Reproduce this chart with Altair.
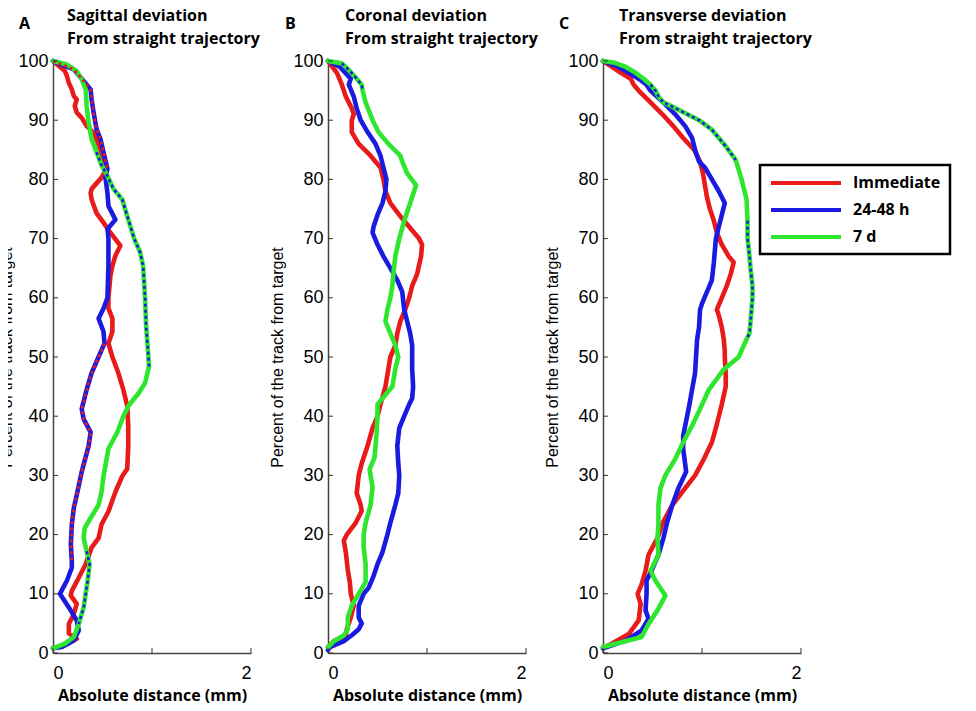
import altair as alt
import pandas as pd

SERIES = ["Immediate", "24-48 h", "7 d"]
COLORS = ["#e81a1a", "#1a1ae0", "#2ee62e"]
X_TICKS = [0, 1, 2]
Y_TICKS = [0, 10, 20, 30, 40, 50, 60, 70, 80, 90, 100]

# ---------------- Panel A (Sagittal) ----------------
A_RED_Y = [100, 98.3, 97.5, 96.3, 95.2, 94.1, 93.5, 92.4, 91.3, 90.4, 89, 87.9, 86.7, 85, 82.9, 81.5, 80.3, 78.4, 77.7, 76.6, 74.3, 72.7, 71, 68.8, 67.1, 65.4, 63.7, 60, 58.2, 56.5, 54.3, 52.3, 50, 47.3, 44.5, 41.7, 38.4, 35, 31.1, 29.9, 27.2, 23.9, 21.7, 19.4, 17.8, 15, 12.7, 10.5, 9.7, 8.3, 6.6, 4.9, 3.3, 2.4, 1.3, 0.8]
A_RED_X = [0, 0.12, 0.14, 0.16, 0.19, 0.21, 0.24, 0.22, 0.24, 0.29, 0.34, 0.41, 0.44, 0.48, 0.51, 0.53, 0.49, 0.39, 0.38, 0.39, 0.44, 0.51, 0.58, 0.68, 0.63, 0.60, 0.58, 0.56, 0.56, 0.60, 0.60, 0.56, 0.60, 0.66, 0.71, 0.75, 0.76, 0.76, 0.75, 0.70, 0.63, 0.56, 0.49, 0.46, 0.39, 0.33, 0.26, 0.19, 0.18, 0.24, 0.21, 0.16, 0.16, 0.24, 0.12, 0]
A_BLUE_Y = [100, 98.6, 97.2, 95.2, 93.5, 91.3, 88.5, 86.8, 84.6, 81.8, 80.3, 77.7, 75.5, 73.2, 71.6, 70, 65.4, 60, 58.2, 56.5, 54.3, 52.3, 50, 47.3, 44.5, 41.2, 39.5, 37.3, 35, 30.6, 26.7, 24.5, 21.7, 18.3, 15.5, 14.4, 12.2, 10, 7.7, 5.5, 3.8, 2.1, 1, 0.8]
A_BLUE_X = [0, 0.21, 0.28, 0.38, 0.39, 0.41, 0.44, 0.48, 0.51, 0.55, 0.53, 0.55, 0.56, 0.63, 0.55, 0.56, 0.56, 0.55, 0.51, 0.46, 0.51, 0.52, 0.46, 0.39, 0.34, 0.29, 0.31, 0.38, 0.36, 0.29, 0.24, 0.21, 0.19, 0.18, 0.19, 0.19, 0.14, 0.07, 0.16, 0.24, 0.26, 0.21, 0.09, 0]
A_GREEN_Y = [100, 99.4, 98.3, 96.9, 95.2, 92.4, 89.6, 86.8, 84.6, 82.4, 80.6, 78.4, 76.6, 73.8, 70, 67.7, 65.4, 60, 55.4, 50.9, 48.4, 45.6, 44, 41.7, 40, 37.3, 34.5, 31.7, 29.9, 27.2, 25, 22.8, 21.1, 19.4, 17.2, 15, 12.2, 10, 7.7, 4.9, 2.7, 1.6, 0.8]
A_GREEN_X = [0, 0.14, 0.24, 0.29, 0.33, 0.34, 0.36, 0.39, 0.44, 0.49, 0.55, 0.61, 0.70, 0.75, 0.82, 0.88, 0.91, 0.93, 0.94, 0.96, 0.97, 0.93, 0.87, 0.76, 0.71, 0.65, 0.56, 0.53, 0.51, 0.49, 0.46, 0.38, 0.32, 0.31, 0.34, 0.37, 0.35, 0.33, 0.31, 0.26, 0.21, 0.12, 0]

# ---------------- Panel B (Coronal) ----------------
B_RED_Y = [100, 98, 96, 94, 92, 91, 90, 88, 86, 84, 82, 80, 78, 76, 74, 72, 70, 69, 67, 64, 62, 60, 58, 56, 54, 52, 50, 48, 45, 42, 40, 38, 35, 32, 30, 27, 25, 24, 22, 20, 19, 17, 14, 12, 10, 8, 6, 4, 3, 2, 1]
B_RED_X = [0, 0.09, 0.14, 0.18, 0.24, 0.26, 0.24, 0.24, 0.31, 0.43, 0.53, 0.56, 0.58, 0.63, 0.72, 0.82, 0.92, 0.95, 0.94, 0.90, 0.85, 0.82, 0.78, 0.73, 0.70, 0.68, 0.63, 0.61, 0.58, 0.53, 0.50, 0.45, 0.40, 0.34, 0.31, 0.29, 0.33, 0.34, 0.28, 0.19, 0.16, 0.18, 0.20, 0.22, 0.23, 0.26, 0.23, 0.19, 0.18, 0.06, 0]
B_BLUE_Y = [100, 99, 97, 96, 94, 92, 90, 88, 86, 84, 82, 80, 78, 76, 74, 72, 71, 69, 67, 65, 63, 61, 58, 56, 54, 52, 50, 48, 45, 43, 42, 40, 38, 35, 32, 30, 27, 25, 22, 20, 17, 15, 13, 11, 10, 8, 6, 5, 4, 3, 2, 1, 0.5]
B_BLUE_X = [0, 0.12, 0.23, 0.21, 0.26, 0.29, 0.33, 0.40, 0.48, 0.53, 0.56, 0.59, 0.58, 0.55, 0.50, 0.46, 0.45, 0.50, 0.56, 0.63, 0.70, 0.75, 0.77, 0.80, 0.83, 0.85, 0.85, 0.85, 0.86, 0.85, 0.82, 0.77, 0.72, 0.70, 0.71, 0.72, 0.71, 0.68, 0.63, 0.60, 0.55, 0.50, 0.46, 0.41, 0.36, 0.31, 0.31, 0.34, 0.31, 0.24, 0.16, 0.02, 0]
B_GREEN_Y = [100, 99.6, 98.5, 97, 96, 95, 93, 90, 88, 86, 84, 83, 81, 79, 77, 75, 73, 70, 67, 64, 62, 60, 58, 56, 54, 52, 50, 48, 45, 43, 42, 40, 37, 35, 33, 31, 28, 25, 22, 20, 18, 15, 12, 10, 8, 6, 4, 3, 2, 1]
B_GREEN_X = [0, 0.14, 0.21, 0.29, 0.34, 0.35, 0.38, 0.45, 0.51, 0.61, 0.73, 0.75, 0.80, 0.89, 0.85, 0.81, 0.77, 0.72, 0.68, 0.66, 0.65, 0.63, 0.60, 0.58, 0.63, 0.68, 0.71, 0.68, 0.65, 0.55, 0.50, 0.50, 0.49, 0.48, 0.47, 0.42, 0.45, 0.43, 0.38, 0.36, 0.36, 0.38, 0.38, 0.31, 0.24, 0.20, 0.20, 0.16, 0.06, 0]

# ---------------- Panel C (Transverse) ----------------
C_RED_Y = [100, 99, 98, 97, 96, 95, 93, 91, 89, 87, 85, 83, 81, 79, 77, 75, 73, 71, 69, 67, 66, 64, 62, 60, 58, 57, 55, 53, 51, 50, 47, 45, 42, 40, 38, 35.6, 32.8, 30, 27.2, 25, 22.2, 19.4, 16.6, 13.9, 11.6, 10, 8.3, 5.5, 3.2, 1.6, 0.8]
C_RED_X = [0, 0.09, 0.18, 0.28, 0.31, 0.36, 0.48, 0.60, 0.71, 0.81, 0.92, 0.98, 1.01, 1.03, 1.05, 1.08, 1.12, 1.15, 1.20, 1.27, 1.32, 1.29, 1.25, 1.20, 1.15, 1.17, 1.20, 1.22, 1.23, 1.23, 1.24, 1.24, 1.20, 1.17, 1.14, 1.10, 1.02, 0.93, 0.80, 0.70, 0.61, 0.55, 0.46, 0.43, 0.39, 0.35, 0.38, 0.36, 0.26, 0.09, 0]
C_BLUE_Y = [100, 99, 98, 97, 96, 95, 93, 91, 89, 87, 85, 83, 82, 80, 78, 76, 74, 72, 70, 68, 66, 63, 61, 59, 58, 55, 52.9, 47.3, 41.7, 36.7, 34.5, 30.6, 27.8, 25, 22.2, 19.4, 16.6, 13.9, 12.2, 10, 7.2, 5.8, 3.8, 2.1, 0.8]
C_BLUE_X = [0, 0.16, 0.26, 0.36, 0.44, 0.48, 0.61, 0.73, 0.83, 0.90, 0.93, 0.97, 1.03, 1.10, 1.17, 1.23, 1.20, 1.17, 1.14, 1.13, 1.12, 1.10, 1.05, 1.00, 0.98, 0.97, 0.95, 0.93, 0.87, 0.81, 0.81, 0.84, 0.76, 0.70, 0.65, 0.61, 0.56, 0.49, 0.44, 0.44, 0.43, 0.46, 0.39, 0.23, 0]
C_GREEN_Y = [100, 99.7, 99, 98, 97, 96, 95, 94, 93, 92.3, 90, 88.4, 85.6, 83.3, 80, 76.6, 73, 70, 67, 65, 62, 60, 58, 56, 54, 53, 50, 47.9, 44.5, 41.2, 38.4, 35.6, 32.8, 30, 27.8, 25, 21.7, 19.4, 16.6, 13.9, 12.2, 9.7, 7.2, 4.9, 2.7, 1]
C_GREEN_X = [0, 0.12, 0.23, 0.33, 0.41, 0.48, 0.53, 0.56, 0.61, 0.70, 0.97, 1.10, 1.24, 1.34, 1.40, 1.45, 1.46, 1.46, 1.48, 1.49, 1.51, 1.51, 1.50, 1.49, 1.48, 1.45, 1.37, 1.22, 1.07, 0.98, 0.90, 0.81, 0.73, 0.63, 0.58, 0.56, 0.56, 0.55, 0.56, 0.48, 0.53, 0.63, 0.55, 0.46, 0.39, 0]

# Stretches where two traces run together and look dotted in the original
# (panel, trace underneath, dotted colour index, upper y, lower y)
DOTTED = [
    ("A", "24-48 h", 0, 100, 81.8),
    ("A", "24-48 h", 0, 52.3, 15.5),
    ("A", "7 d", 1, 84.6, 48.4),
    ("A", "7 d", 1, 17.2, 4.9),
    ("B", "7 d", 1, 99.6, 95),
    ("C", "7 d", 1, 96, 83.3),
    ("C", "7 d", 1, 73, 53),
]

DATA = {
    "A": [(A_RED_X, A_RED_Y), (A_BLUE_X, A_BLUE_Y), (A_GREEN_X, A_GREEN_Y)],
    "B": [(B_RED_X, B_RED_Y), (B_BLUE_X, B_BLUE_Y), (B_GREEN_X, B_GREEN_Y)],
    "C": [(C_RED_X, C_RED_Y), (C_BLUE_X, C_BLUE_Y), (C_GREEN_X, C_GREEN_Y)],
}

rows = []
for pk, lst in DATA.items():
    for s, (xs, ys) in zip(SERIES, lst):
        for i, (xv, yv) in enumerate(zip(xs, ys)):
            rows.append({"panel": pk, "series": s, "idx": i, "x": xv, "y": yv})
df = pd.DataFrame(rows)

ov_rows = []
for k, (pk, s, ci, yhi, ylo) in enumerate(DOTTED):
    sub = df[(df.panel == pk) & (df.series == s) & (df.y <= yhi) & (df.y >= ylo)]
    for _, r in sub.iterrows():
        ov_rows.append({"panel": pk, "seg": k, "idx": r["idx"], "x": r["x"], "y": r["y"],
                        "dcol": COLORS[ci]})
ov = pd.DataFrame(ov_rows)

W, H = 198, 592
YTITLE = "Percent of the track from target"
XTITLE = "Absolute distance (mm)"

xaxis = alt.Axis(values=X_TICKS, title=XTITLE, ticks=False, labelPadding=11,
                 titlePadding=5, grid=False, format="d")


def yaxis_for(tp):
    return alt.Axis(values=Y_TICKS, title=YTITLE, ticks=False, labelPadding=5,
                    titlePadding=tp, grid=False)


# legend line: 70 px long stroke starting at the entry's left edge
legend = alt.Legend(orient="none", legendX=707, legendY=104, title=None,
                    symbolType="M-1,0L9,0", symbolSize=196, symbolStrokeWidth=4,
                    labelFont="Open Sans", labelFontWeight="bold", labelFontSize=16,
                    labelColor="black", labelOffset=66, rowPadding=10, padding=9,
                    strokeColor="black", fillColor="white")

xs_ = alt.Scale(domain=[0, 2], nice=False)
ys_ = alt.Scale(domain=[0, 100], nice=False)
cs_ = alt.Scale(domain=SERIES, range=COLORS)


def panel(pk, letter, lines, title_dx, letter_dx, ytp):
    d = df[df.panel == pk]
    o = ov[ov.panel == pk]
    yaxis = yaxis_for(ytp)
    main = alt.Chart(d).mark_line(strokeWidth=4.6, strokeJoin="round", strokeCap="round").encode(
        x=alt.X("x:Q", scale=xs_, axis=xaxis),
        y=alt.Y("y:Q", scale=ys_, axis=yaxis),
        color=alt.Color("series:N", scale=cs_, legend=legend),
        order="idx:Q",
    )
    dots = alt.Chart(o).mark_line(strokeWidth=2.6, strokeDash=[3, 3]).encode(
        x=alt.X("x:Q", scale=xs_, axis=xaxis),
        y=alt.Y("y:Q", scale=ys_, axis=yaxis),
        color=alt.Color("dcol:N", scale=None),
        detail="seg:N",
        order="idx:Q",
    )
    yt = alt.Chart(pd.DataFrame({"y": Y_TICKS})).mark_rule(color="#333", strokeWidth=1).encode(
        y=alt.Y("y:Q", scale=ys_, axis=yaxis), x=alt.value(0), x2=alt.value(5))
    xt = alt.Chart(pd.DataFrame({"x": X_TICKS})).mark_rule(color="#333", strokeWidth=1).encode(
        x=alt.X("x:Q", scale=xs_, axis=xaxis), y=alt.value(H), y2=alt.value(H - 5))
    let = alt.Chart(pd.DataFrame({"t": [letter]})).mark_text(
        font="Open Sans", fontWeight="bold", fontSize=16, align="left", baseline="alphabetic",
        color="black").encode(text="t:N", x=alt.value(letter_dx), y=alt.value(-32))
    ttl = alt.Chart(pd.DataFrame({"t": [letter]})).mark_text(
        font="Open Sans", fontWeight="bold", fontSize=16, align="left", baseline="alphabetic",
        color="black", lineHeight=23).encode(
        text=alt.value(lines), x=alt.value(title_dx), y=alt.value(-40))
    return alt.layer(main, dots, yt, xt, let, ttl).properties(width=W, height=H)


pa = panel("A", "A", ["Sagittal deviation", "From straight trajectory"], 14, -34, 3)
pb = panel("B", "B", ["Coronal deviation", "From straight trajectory"], 17, -43, 7)
pc = panel("C", "C", ["Transverse deviation", "From straight trajectory"], 16, -44, 7)

chart = alt.hconcat(pa, pb, pc, spacing=77, bounds="flush").properties(
    padding={"left": -10, "top": 0, "right": 5, "bottom": 2}
).configure_view(stroke=None).configure_axis(
    domainColor="#444", domainWidth=1.5,
    labelFont="Liberation Sans", labelFontSize=18, labelColor="black",
    titleColor="black",
).configure_axisY(
    titleFont="Liberation Sans", titleFontSize=16, titleFontWeight="normal",
).configure_axisX(
    titleFont="Open Sans", titleFontSize=16, titleFontWeight="bold",
).configure_legend(strokeWidth=2.5)

chart.save("out.html", embed_options={"renderer": "svg", "actions": False})
